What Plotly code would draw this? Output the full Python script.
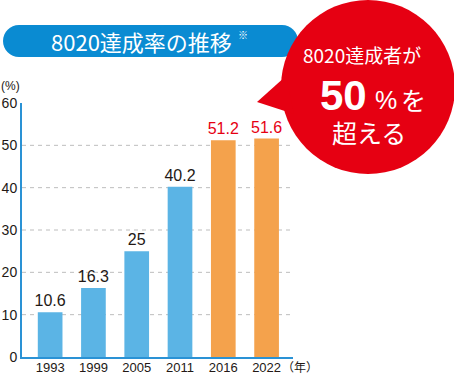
import plotly.graph_objects as go

# ---- data ----
years = ["1993", "1999", "2005", "2011", "2016", "2022"]
rates = [10.6, 16.3, 25, 40.2, 51.2, 51.6]
labels = ["10.6", "16.3", "25", "40.2", "51.2", "51.6"]
bar_colors = ["#5bb4e5", "#5bb4e5", "#5bb4e5", "#5bb4e5", "#f4a24c", "#f4a24c"]
label_colors = ["#231815", "#231815", "#231815", "#231815", "#e60012", "#e60012"]
y_ticks = [0, 10, 20, 30, 40, 50, 60]
grid_vals = [10, 20, 30, 40, 50]
title_text = "8020達成率の推移"

W, H = 454, 374
L, R, T, B = 22, 161, 103, 17
PW, PH = W - L - R, H - T - B

def px(x):
    return (x - L) / PW

def py(y):
    return (H - B - y) / PH

JP = "Noto Sans CJK JP"
NUM = "Liberation Sans"
DARK = "#231815"

fig = go.Figure()
fig.add_trace(go.Bar(
    x=years, y=rates, marker_color=bar_colors, marker_line_width=0,
    width=0.57, text=labels, textposition="outside", cliponaxis=False,
    constraintext="none",
    textfont=dict(family=NUM, size=16, color=label_colors),
    hoverinfo="skip",
))

shapes = []
for g in grid_vals:
    shapes.append(dict(type="line", xref="paper", yref="y", x0=0, x1=1, y0=g, y1=g,
                       line=dict(color="#bdbdbd", width=1, dash="4px,4px"), layer="below"))

def rounded_rect(x0, y0, x1, y1, r):
    k = 0.5523 * r
    def P(x, y):
        return f"{px(x):.5f},{py(y):.5f}"
    return (f"M {P(x0 + r, y0)} L {P(x1 - r, y0)} "
            f"C {P(x1 - r + k, y0)} {P(x1, y0 + r - k)} {P(x1, y0 + r)} "
            f"L {P(x1, y1 - r)} "
            f"C {P(x1, y1 - r + k)} {P(x1 - r + k, y1)} {P(x1 - r, y1)} "
            f"L {P(x0 + r, y1)} "
            f"C {P(x0 + r - k, y1)} {P(x0, y1 - r + k)} {P(x0, y1 - r)} "
            f"L {P(x0, y0 + r)} "
            f"C {P(x0, y0 + r - k)} {P(x0 + r - k, y0)} {P(x0 + r, y0)} Z")

shapes.append(dict(type="path", xref="paper", yref="paper",
                   path=rounded_rect(3, 25, 298, 57, 16),
                   fillcolor="#0a8bd2", line=dict(width=0)))

# speech bubble
shapes.append(dict(type="circle", xref="paper", yref="paper",
                   x0=px(281), x1=px(455), y0=py(174), y1=py(0),
                   fillcolor="#e60012", line=dict(width=0)))
tail = f"M {px(257):.5f},{py(102):.5f} L {px(286):.5f},{py(76):.5f} L {px(294):.5f},{py(114):.5f} Z"
shapes.append(dict(type="path", xref="paper", yref="paper", path=tail,
                   fillcolor="#e60012", line=dict(width=0)))

ann = []
def A(text, x, y, size, color, family=JP, xanchor="center", bold=False):
    t = f"<b>{text}</b>" if bold else text
    ann.append(dict(text=t, x=px(x), y=py(y), xref="paper", yref="paper",
                    xanchor=xanchor, yanchor="middle", showarrow=False,
                    font=dict(family=family, size=size, color=color)))

A(title_text, 141, 41, 22, "white")
A("※", 243, 34, 10, "white")
A("8020達成者が", 362, 55, 19, "white")
A("50", 344, 95, 42, "white", family=NUM, bold=True)
A("%", 373, 100, 25, "white", family=NUM, xanchor="left")
A("を", 399, 99, 25, "white", xanchor="left")
A("超える", 369, 132, 25, "white")
A("(%)", 10, 86, 12, DARK, family=NUM)
A("（年）", 300, 366, 12, DARK)

fig.update_layout(
    width=W, height=H, margin=dict(l=L, r=R, t=T, b=B, autoexpand=False),
    paper_bgcolor="white", plot_bgcolor="white", showlegend=False,
    shapes=shapes, annotations=ann,
    xaxis=dict(type="category", range=[-0.65, 5.61], showgrid=False, zeroline=False,
               showline=True, linecolor="#2a92d5", linewidth=2, ticks="",
               ticklabelstandoff=-3,
               tickfont=dict(family=NUM, size=13, color=DARK), fixedrange=True),
    yaxis=dict(range=[0, 60], tickvals=y_ticks, showgrid=False, zeroline=False,
               showline=True, linecolor="#2a92d5", linewidth=2, ticks="",
               tickfont=dict(family=NUM, size=14, color=DARK), fixedrange=True),
)

fig.write_html("out.html", config={"displayModeBar": False},
               post_script="document.body.style.margin='0';document.body.style.overflow='hidden';")
